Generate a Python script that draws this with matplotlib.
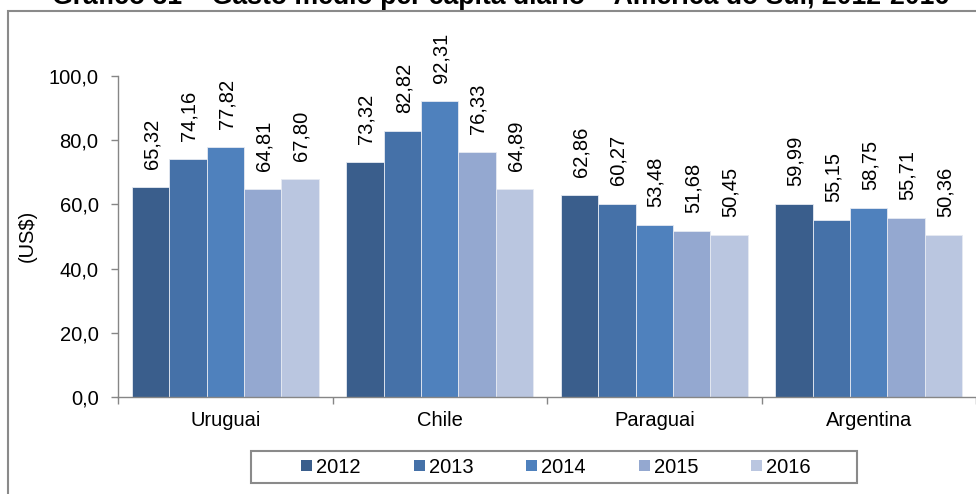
import matplotlib
matplotlib.use("Agg")
import matplotlib.pyplot as plt
from matplotlib.patches import Rectangle, Patch
from matplotlib.ticker import FixedLocator, FuncFormatter
import numpy as np

plt.rcParams['font.family'] = ['Liberation Sans', 'DejaVu Sans']

title = "Gráfico 31 – Gasto médio per capita diário – América do Sul, 2012-2016"
categories = ["Uruguai", "Chile", "Paraguai", "Argentina"]
years = ["2012", "2013", "2014", "2015", "2016"]
values = {
    "2012": [65.32, 73.32, 62.86, 59.99],
    "2013": [74.16, 82.82, 60.27, 55.15],
    "2014": [77.82, 92.31, 53.48, 58.75],
    "2015": [64.81, 76.33, 51.68, 55.71],
    "2016": [67.80, 64.89, 50.45, 50.36],
}
colors = ["#3A5E8C", "#4571A8", "#4F81BD", "#94A8D0", "#BAC6E0"]
y_ticks = [0, 20, 40, 60, 80, 100]
y_label = "(US$)"

W, H = 976, 494
fig = plt.figure(figsize=(W / 100, H / 100), dpi=100)

def fx(px):
    return px / W

def fy(py):
    return 1 - py / H

ax = fig.add_axes([fx(118), fy(397), fx(976) - fx(118), fy(76) - fy(397)])

fs = 14.5
grey = "#868686"
bw = 0.174
x = np.arange(len(categories))
for i, yr in enumerate(years):
    xs = x + (i - 2) * bw
    bars = ax.bar(xs, values[yr], width=bw, color=colors[i], edgecolor="#E6EAF2",
                  linewidth=0.6, label=yr, zorder=2)
    for b, v in zip(bars, values[yr]):
        ax.annotate(f"{v:.2f}".replace(".", ","), (b.get_x() + b.get_width() / 2, v),
                    xytext=(1, 13), textcoords="offset points", rotation=90,
                    ha="center", va="bottom", fontsize=fs, color="black")

ax.set_xlim(-0.5, len(categories) - 0.5)
ax.set_ylim(0, 100)
ax.yaxis.set_major_locator(FixedLocator(y_ticks))
ax.yaxis.set_major_formatter(FuncFormatter(lambda v, p: f"{v:.1f}".replace(".", ",")))
ax.tick_params(axis="y", direction="out", length=5, width=1, color=grey, pad=9, labelsize=fs)

ax.set_xticks(x)
ax.set_xticklabels(categories, fontsize=fs)
ax.tick_params(axis="x", which="major", length=0, pad=10)
ax.set_xticks(np.arange(-0.5, len(categories) + 0.5, 1), minor=True)
ax.tick_params(axis="x", which="minor", direction="out", length=5, width=1, color=grey)

for s in ["top", "right"]:
    ax.spines[s].set_visible(False)
for s in ["left", "bottom"]:
    ax.spines[s].set_color(grey)
    ax.spines[s].set_linewidth(1)
ax.spines["bottom"].set_clip_on(False)

fig.text(fx(27.5), fy(236), y_label, rotation=90, ha="center", va="center", fontsize=fs)

# title (partly cropped at top, as in the reference)
t = fig.text(fx(501), fy(4), title, ha="center", va="baseline", fontsize=16, fontweight="bold")
fig.canvas.draw()
wpx = t.get_window_extent().width
t.set_fontsize(16 * 898 / wpx)

# outer frame
fig.patches.append(Rectangle((fx(8), fy(600)), fx(1100), fy(10.5) - fy(600),
                             transform=fig.transFigure, fill=False, edgecolor="#8A8A8A",
                             linewidth=1.5, clip_on=False))

# legend
handles = [Patch(facecolor=c, edgecolor="none") for c in colors]
leg = fig.legend(handles, years, loc="center", bbox_to_anchor=(fx(556), fy(467)), ncol=5,
                 frameon=False, fontsize=fs, handlelength=0.55, handleheight=0.5,
                 handletextpad=0.2, columnspacing=2.62, borderpad=0)
fig.patches.append(Rectangle((fx(251), fy(483)), fx(857) - fx(251), fy(451) - fy(483),
                             transform=fig.transFigure, fill=False, edgecolor="#8A8A8A",
                             linewidth=1.5))

fig.savefig("out.png", dpi=100)
